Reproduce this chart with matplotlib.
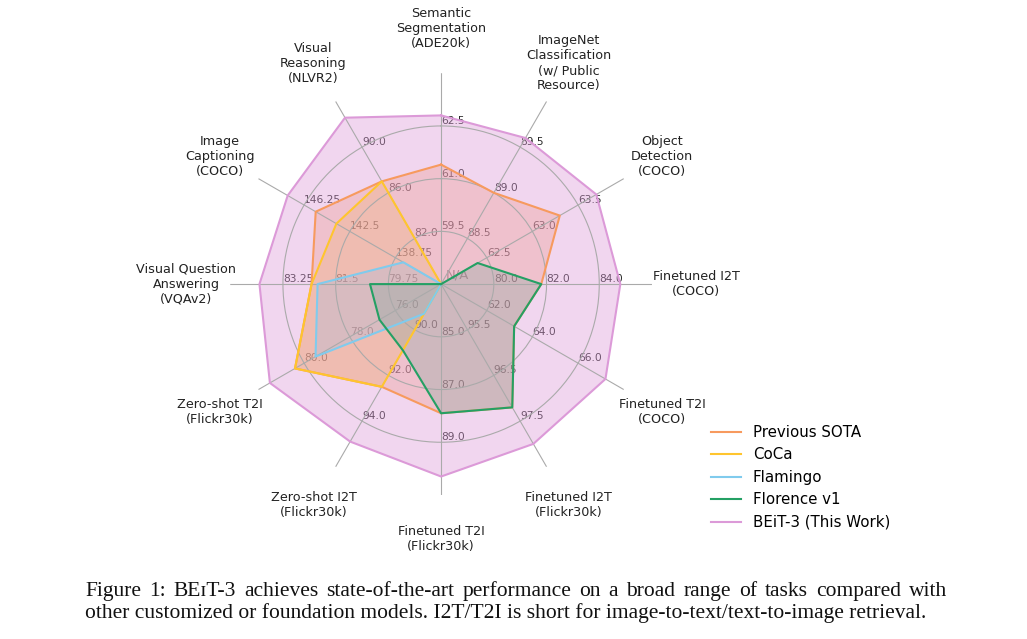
import numpy as np
import matplotlib.pyplot as plt

tasks = [
    "Semantic\nSegmentation\n(ADE20k)",
    "ImageNet\nClassification\n(w/ Public\nResource)",
    "Object\nDetection\n(COCO)",
    "Finetuned I2T\n(COCO)",
    "Finetuned T2I\n(COCO)",
    "Finetuned I2T\n(Flickr30k)",
    "Finetuned T2I\n(Flickr30k)",
    "Zero-shot I2T\n(Flickr30k)",
    "Zero-shot T2I\n(Flickr30k)",
    "Visual Question\nAnswering\n(VQAv2)",
    "Image\nCaptioning\n(COCO)",
    "Visual\nReasoning\n(NLVR2)",
]

# three ticks per axis (values at rings 1, 2, 3)
axis_ticks = [
    [59.5, 61.0, 62.5],
    [88.5, 89.0, 89.5],
    [62.5, 63.0, 63.5],
    [80.0, 82.0, 84.0],
    [62.0, 64.0, 66.0],
    [95.5, 96.5, 97.5],
    [85.0, 87.0, 89.0],
    [90.0, 92.0, 94.0],
    [76.0, 78.0, 80.0],
    [79.75, 81.5, 83.25],
    [138.75, 142.5, 146.25],
    [82.0, 86.0, 90.0],
]

# None = N/A (drawn at the centre)
previous_sota = [61.4, 89.0, 63.3, 81.8, 63.2, 97.2, 87.9, 92.5, 80.4, 82.3, 145.3, 87.0]
coca = [None, None, None, None, None, None, None, 92.5, 80.4, 82.3, 143.6, 87.0]
flamingo = [None, None, None, None, None, None, None, 89.3, 79.5, 82.1, 138.1, None]
florence = [None, None, 62.4, 81.8, 63.2, 97.2, 87.9, 90.9, 76.7, 80.36, None, None]
beit3 = [62.8, 89.6, 63.7, 84.8, 67.2, 98.0, 90.3, 94.9, 81.5, 84.03, 147.6, 92.58]

series = [
    ("Previous SOTA", previous_sota, "#f79a5e", 0.35),
    ("CoCa", coca, "#ffc52e", 0.3),
    ("Flamingo", flamingo, "#80cbed", 0.3),
    ("Florence v1", florence, "#24a064", 0.25),
    ("BEiT-3 (This Work)", beit3, "#dc9ad8", 0.4),
]

caption_1 = "Figure 1: BE\u026aT-3 achieves state-of-the-art performance on a broad range of tasks compared with"
caption_2 = "other customized or foundation models. I2T/T2I is short for image-to-text/text-to-image retrieval."


def to_r(vals):
    out = []
    for v, t in zip(vals, axis_ticks):
        step = t[1] - t[0]
        base = t[0] - step
        out.append(0.0 if v is None else (v - base) / step)
    return out


n = len(tasks)
angles = np.arange(n) * 2 * np.pi / n

fig = plt.figure(figsize=(10.27, 6.39), dpi=100)
ax = fig.add_axes([0.224, 0.2254, 0.411, 0.660], projection="polar")
ax.set_theta_offset(np.pi / 2)
ax.set_theta_direction(-1)
ax.set_ylim(0, 4.0)
ax.set_xticks(angles)
ax.set_xticklabels([])
ax.set_yticks([1, 2, 3])
ax.set_yticklabels([])
ax.grid(True, color="#aaaaaa", linewidth=0.8)
ax.spines["polar"].set_visible(False)

# tick values along each spoke, under the fills
for a, t in zip(angles, axis_ticks):
    for i, v in enumerate(t):
        ax.text(a, i + 1, str(v), ha="left", va="bottom", fontsize=7.7,
                color="#262626", zorder=0.9)

ax.annotate("N/A", xy=(0, 0), xytext=(5, 3), textcoords="offset pixels",
            ha="left", va="bottom", fontsize=9.5, color="#6e6e6e", zorder=0.9)

for a, lab in zip(angles, tasks):
    ax.text(a, 4.84, lab, ha="center", va="center", fontsize=9.2,
            color="#222222")

handles = {}
# BEiT-3 drawn first so the others sit on top
order = [4, 0, 1, 2, 3]
for k in order:
    name, vals, col, al = series[k]
    r = to_r(vals)
    th = np.append(angles, angles[0])
    rr = np.append(r, r[0])
    ax.fill(th, rr, color=col, alpha=al, zorder=1 + k * 0.1, linewidth=0)
    ln, = ax.plot(th, rr, color=col, linewidth=1.5, zorder=2 + k * 0.1)
    handles[name] = ln

fig.legend([handles[s[0]] for s in series], [s[0] for s in series],
           loc="upper left", bbox_to_anchor=(0.692, 0.335), frameon=False,
           fontsize=10.8, borderpad=0, borderaxespad=0)

# caption: first line justified like the LaTeX paragraph, second line ragged
cap_font = ["Liberation Serif", "DejaVu Serif"]
cap_size = 15.5
x0, x1 = 85, 947
renderer = fig.canvas.get_renderer()
words = caption_1.split(" ")
pieces = []
for w in words:
    t = fig.text(0, 1 - 596 / 639, w, ha="left", va="baseline",
                 fontsize=cap_size, family=cap_font, color="#111111")
    pieces.append((t, t.get_window_extent(renderer).width))
gap = (x1 - x0 - sum(p[1] for p in pieces)) / (len(pieces) - 1)
x = x0
for t, wd in pieces:
    t.set_x(x / 1027)
    x += wd + gap
fig.text(x0 / 1027, 1 - 618 / 639, caption_2, ha="left", va="baseline",
         fontsize=cap_size, family=cap_font, color="#111111")

fig.savefig("out.png", dpi=100)
